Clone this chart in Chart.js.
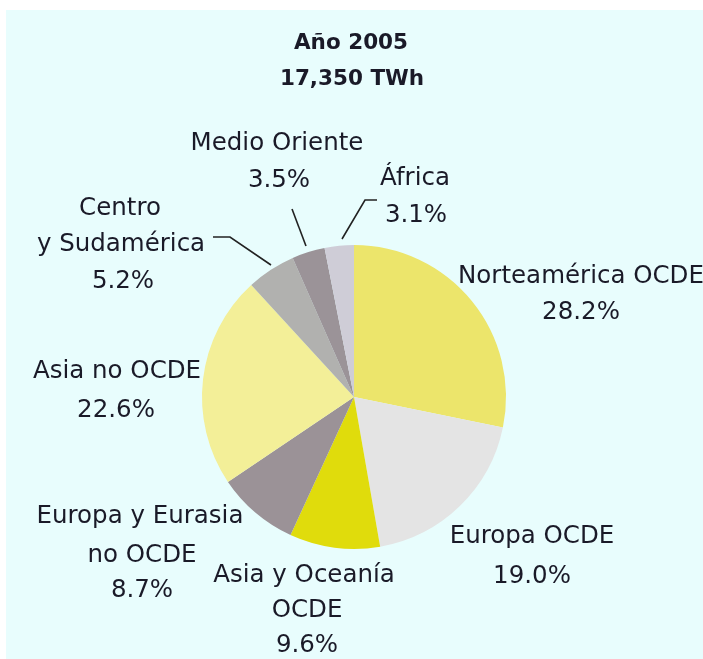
<!DOCTYPE html>
<html>
<head>
<meta charset="utf-8">
<script src="https://cdn.jsdelivr.net/npm/chart.js@4.4.1/dist/chart.umd.min.js"></script>
<style>
  html, body { margin: 0; padding: 0; background: #e8fdfd; overflow: hidden; }
  #wrap { width: 703px; height: 659px; position: relative; }
  canvas { display: block; }
</style>
</head>
<body>
<div id="wrap"><canvas id="c" width="703" height="659"></canvas></div>
<script>
const titleLines = ['Año 2005', '17,350 TWh'];
const categories = ['Norteamérica OCDE', 'Europa OCDE', 'Asia y Oceanía OCDE', 'Europa y Eurasia no OCDE', 'Asia no OCDE', 'Centro y Sudamérica', 'Medio Oriente', 'África'];
const shares = [28.2, 19.0, 9.6, 8.7, 22.6, 5.2, 3.5, 3.1];
const labelLines = [
  ['Norteamérica OCDE'],
  ['Europa OCDE'],
  ['Asia y Oceanía', 'OCDE'],
  ['Europa y Eurasia', 'no OCDE'],
  ['Asia no OCDE'],
  ['Centro', 'y Sudamérica'],
  ['Medio Oriente'],
  ['África']
];
const sliceColors = ['#ece56b', '#e4e4e4', '#e0dc0c', '#9b9297', '#f3ef98', '#b1b1af', '#9b9398', '#cfcdd7'];

// label placement relative to pie centre (px): x centre of each line, baseline of each line
const labelLayout = [
  { xs: [227, 227], ys: [-114, -78] },
  { xs: [178, 178], ys: [146, 186] },
  { xs: [-50, -47, -47], ys: [185, 220, 255] },
  { xs: [-214, -212, -212], ys: [126, 165, 200] },
  { xs: [-237, -238], ys: [-19, 20] },
  { xs: [-234, -233, -231], ys: [-182, -146, -109] },
  { xs: [-77, -75], ys: [-247, -210] },
  { xs: [61, 62], ys: [-212, -175] }
];
const leaderLines = [
  [[-141, -160], [-124, -160], [-83, -132]],
  [[-62, -188], [-48, -151]],
  [[23, -197], [11, -197], [-12, -158]]
];

const FONT = '"DejaVu Sans", "Open Sans", sans-serif';
const TEXT = '#1a1a28';

const bgPlugin = {
  id: 'bg',
  beforeDraw(chart) {
    const ctx = chart.ctx;
    ctx.save();
    ctx.fillStyle = '#e8fdfd';
    ctx.fillRect(0, 0, chart.width, chart.height);
    ctx.fillStyle = '#ffffff';
    ctx.fillRect(0, 0, chart.width, 10);
    ctx.fillRect(0, 0, 6, chart.height);
    ctx.restore();
  }
};

const labelPlugin = {
  id: 'labels',
  afterDraw(chart) {
    const ctx = chart.ctx;
    const arc = chart.getDatasetMeta(0).data[0];
    const cx = arc.x, cy = arc.y;
    ctx.save();
    ctx.textAlign = 'center';
    ctx.textBaseline = 'alphabetic';
    ctx.fillStyle = TEXT;
    ctx.font = 'bold 21.5px ' + FONT;
    ctx.fillText(titleLines[0], 351, 49);
    ctx.fillText(titleLines[1], 352, 85);

    ctx.font = '24.5px ' + FONT;
    shares.forEach((v, i) => {
      const lay = labelLayout[i];
      const lines = labelLines[i].concat([v.toFixed(1) + '%']);
      lines.forEach((t, j) => {
        ctx.fillText(t, cx + lay.xs[j], cy + lay.ys[j]);
      });
    });

    ctx.strokeStyle = '#222222';
    ctx.lineWidth = 1.6;
    leaderLines.forEach(pts => {
      ctx.beginPath();
      pts.forEach((p, k) => {
        if (k === 0) ctx.moveTo(cx + p[0], cy + p[1]);
        else ctx.lineTo(cx + p[0], cy + p[1]);
      });
      ctx.stroke();
    });
    ctx.restore();
  }
};

new Chart(document.getElementById('c'), {
  type: 'pie',
  data: {
    labels: categories,
    datasets: [{
      data: shares,
      backgroundColor: sliceColors,
      borderWidth: 0
    }]
  },
  options: {
    responsive: false,
    animation: false,
    layout: { padding: { left: 202, right: 197, top: 245, bottom: 110 } },
    plugins: {
      legend: { display: false },
      tooltip: { enabled: false },
      title: { display: false }
    }
  },
  plugins: [bgPlugin, labelPlugin]
});
</script>
</body>
</html>
